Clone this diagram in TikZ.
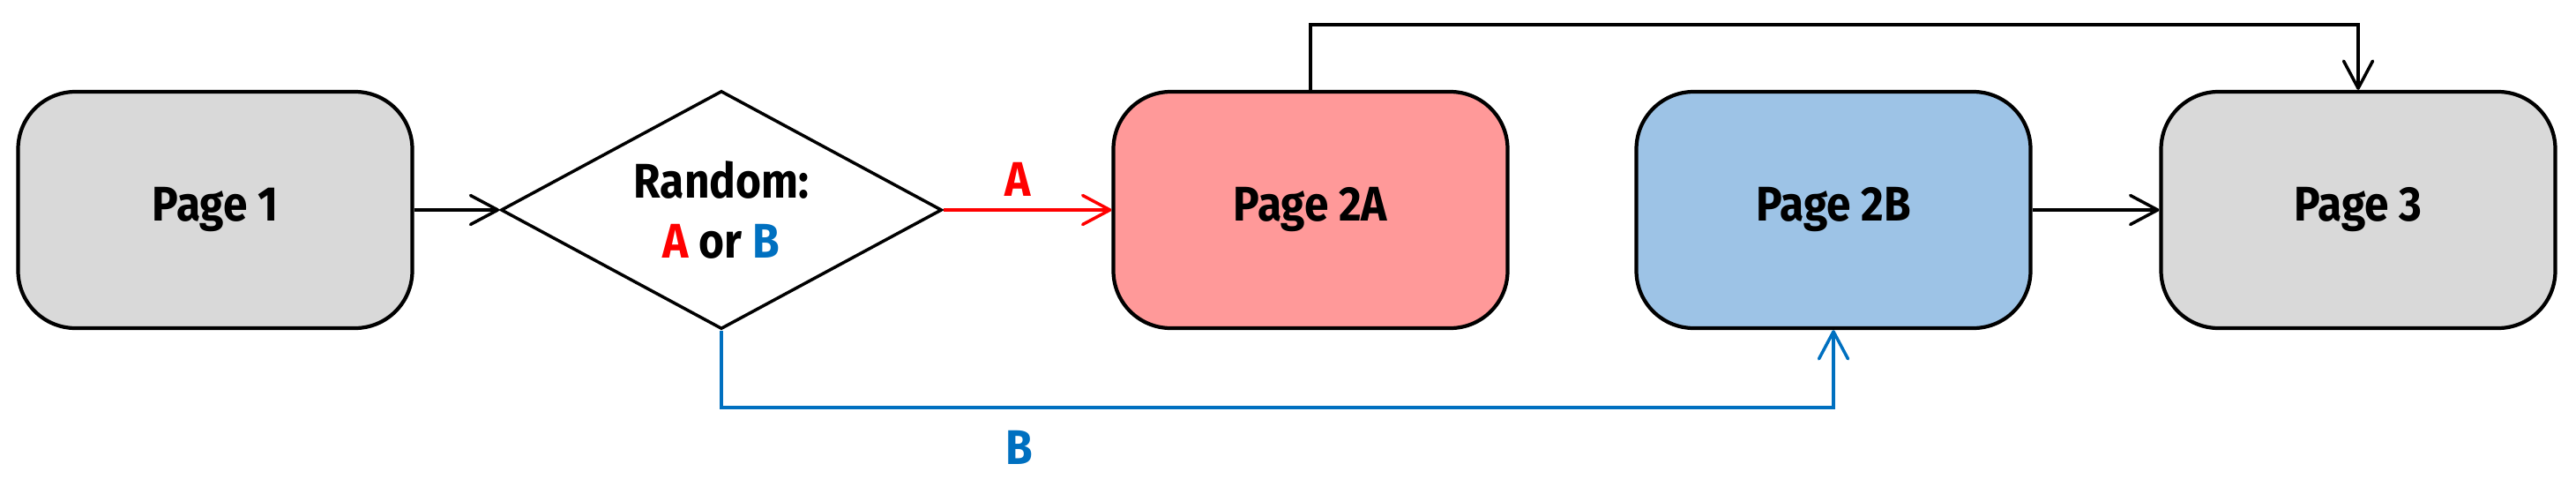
\documentclass[tikz,border=0pt]{standalone}
\usepackage{fontspec}
\setmainfont{Fira Sans}[FakeStretch=0.9]
\usepackage{tikz}
\usetikzlibrary{shapes.geometric, arrows.meta, positioning, calc}
\definecolor{pagegray}{RGB}{217,217,217}
\definecolor{pagered}{RGB}{255,153,153}
\definecolor{pageblue}{RGB}{157,195,230}
\definecolor{pathred}{RGB}{255,0,0}
\definecolor{pathblue}{RGB}{0,112,192}

\begin{document}
\begin{tikzpicture}[
    page/.style={rectangle, draw=black, line width=1.2pt, fill=#1,
                 minimum width=4.47cm, minimum height=2.68cm, rounded corners=0.65cm, align=center},
    choice/.style={diamond, draw=black, line width=1pt, fill=white, aspect=1.85, inner sep=0pt,
                   minimum width=5cm, minimum height=2.7cm, align=center},
    link/.style={draw=#1, line width=1pt, -{Straight Barb[length=3.1mm, width=3.3mm, round]}},
    link/.default=black,
    every node/.style={font=\fontsize{15.7}{19.3}\selectfont\bfseries}
]
    \useasboundingbox (0,0) rectangle (29.21,5.42);

    % Pages
    \node[page=pagegray] (page1) at (2.44,3.04) {Page 1};
    \node[choice] (random) at (8.18,3.04) {Random:\\\textcolor{pathred}{A} or \textcolor{pathblue}{B}};
    \node[page=pagered] (page2a) at (14.86,3.04) {Page 2A};
    \node[page=pageblue] (page2b) at (20.79,3.04) {Page 2B};
    \node[page=pagegray] (page3) at (26.74,3.04) {Page 3};

    % Links
    \draw[link] (page1) -- (random);
    \draw[link=pathred] (random) -- node[above=4pt, pos=0.44, inner sep=0pt, text=pathred] {A} (page2a);
    \draw[link=pathblue] (random.south) -- ++(0,-0.87) -| node[below=7pt, pos=0.134, inner sep=0pt, text=pathblue] {B} (page2b.south);
    \draw[link] (page2b) -- (page3);
    \draw[link] (page2a.north) -- ++(0,0.74) -| (page3.north);
\end{tikzpicture}
\end{document}
